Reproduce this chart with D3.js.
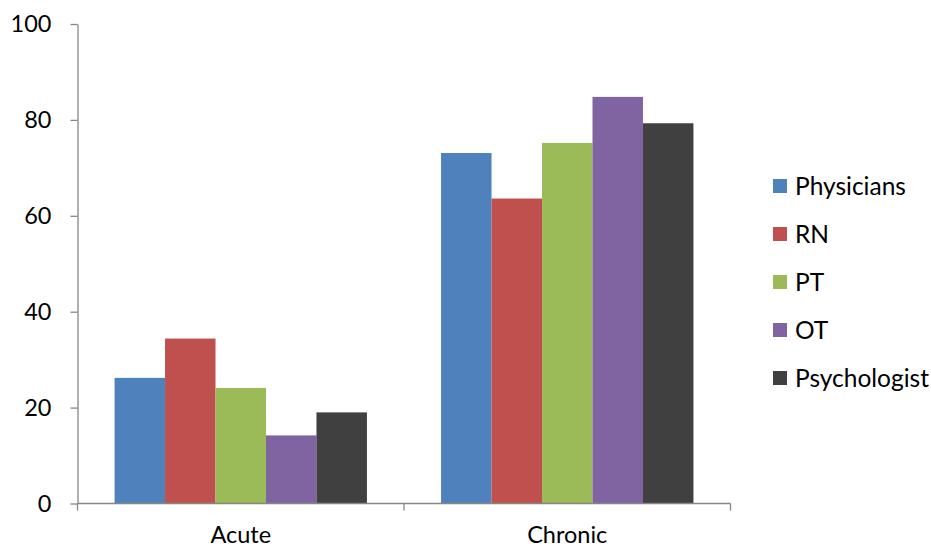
<!DOCTYPE html>
<html><head><meta charset="utf-8">
<script src="https://cdn.jsdelivr.net/npm/d3@7"></script>
<style>body{margin:0;background:#fff}svg{display:block}</style>
</head><body>
<script>
const categories = ["Acute", "Chronic"];
const seriesNames = ["Physicians", "RN", "PT", "OT", "Psychologist"];
const physicians = [26.2, 73.1];
const rn = [34.4, 63.6];
const pt = [24.1, 75.2];
const ot = [14.2, 84.8];
const psychologist = [19.0, 79.3];
const colors = ["#4F81BD", "#C0504D", "#9BBB59", "#8064A2", "#404040"];
const yTicks = [0, 20, 40, 60, 80, 100];

const values = [physicians, rn, pt, ot, psychologist];
const W = 931, H = 550;
const font = "Lato, 'Open Sans', sans-serif";
const fs = 23.5;
const svg = d3.select("body").append("svg").attr("width", W).attr("height", H);

const x0 = d3.scaleBand().domain(categories).range([77.5, 730.5]).paddingInner(0).paddingOuter(0);
const y = d3.scaleLinear().domain([0, 100]).range([503.5, 24]);
const gapRatio = 0.1135;
const x1 = d3.scaleBand().domain(seriesNames)
  .range([x0.bandwidth() * gapRatio, x0.bandwidth() * (1 - gapRatio)]).padding(0);

// bars
categories.forEach((c, ci) => {
  seriesNames.forEach((s, si) => {
    const v = values[si][ci];
    svg.append("rect")
      .attr("x", x0(c) + x1(s))
      .attr("y", y(v))
      .attr("width", x1.bandwidth())
      .attr("height", y(0) - y(v))
      .attr("fill", colors[si]);
  });
});

// y axis
const yAxis = d3.axisLeft(y).tickValues(yTicks).tickSize(7).tickPadding(19).tickSizeOuter(0);
const gy = svg.append("g").attr("transform", "translate(77.5,0)").call(yAxis);
gy.select(".domain").attr("stroke", "#868686").attr("stroke-width", 1.3);
gy.selectAll(".tick line").attr("stroke", "#868686").attr("stroke-width", 1.3);
gy.selectAll(".tick text").attr("font-family", font).attr("font-size", fs).attr("fill", "#000");

// x axis
const xAxis = d3.axisBottom(x0).tickSize(0).tickPadding(23);
const gx = svg.append("g").attr("transform", "translate(0,503.5)").call(xAxis);
gx.select(".domain").remove();
gx.append("line").attr("x1", 77.5).attr("x2", 730.5).attr("stroke", "#868686").attr("stroke-width", 1.3);
[77.5, 404, 730.5].forEach(px => {
  gx.append("line").attr("x1", px).attr("x2", px).attr("y1", 0).attr("y2", 7)
    .attr("stroke", "#868686").attr("stroke-width", 1.3);
});
gx.selectAll(".tick text").attr("font-family", font).attr("font-size", fs).attr("fill", "#000");

// legend
const lg = svg.append("g");
seriesNames.forEach((s, i) => {
  const cy = 186 + i * 48;
  lg.append("rect").attr("x", 773).attr("y", cy - 7).attr("width", 14).attr("height", 14).attr("fill", colors[i]);
  lg.append("text").attr("x", 795).attr("y", cy).attr("dy", "0.35em")
    .attr("font-family", font).attr("font-size", 24.5).attr("fill", "#000").text(s);
});
</script>
</body></html>
